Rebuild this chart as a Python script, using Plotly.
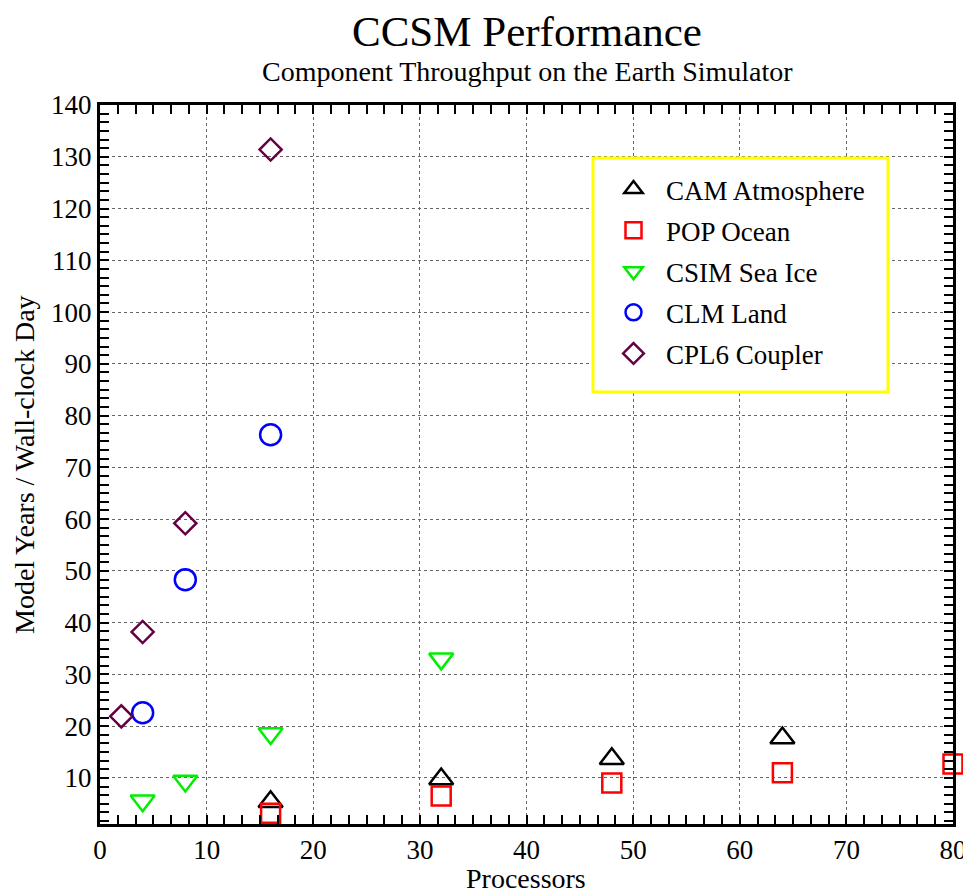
import plotly.graph_objects as go

# ---- data ----
cam_x = [16, 32, 48, 64]
cam_y = [5.4, 9.8, 13.7, 17.7]

pop_x = [16, 32, 48, 64, 80]
pop_y = [3.2, 6.5, 9.0, 11.0, 12.7]

csim_x = [4, 8, 16, 32]
csim_y = [5.6, 9.4, 18.6, 33.0]

clm_x = [4, 8, 16]
clm_y = [22.6, 48.3, 76.3]

cpl_x = [2, 4, 8, 16]
cpl_y = [21.9, 38.2, 59.2, 131.4]

x_ticks = [0, 10, 20, 30, 40, 50, 60, 70, 80]
y_ticks = [10, 20, 30, 40, 50, 60, 70, 80, 90, 100, 110, 120, 130, 140]

FONT = "Liberation Serif, Times New Roman, serif"

series = [
    ("CAM Atmosphere", cam_x, cam_y, "triangle-up-open", "#000000", 21),
    ("POP Ocean", pop_x, pop_y, "square-open", "#ff0000", 19),
    ("CSIM Sea Ice", csim_x, csim_y, "triangle-down-open", "#00ee00", 21),
    ("CLM Land", clm_x, clm_y, "circle-open", "#0000ff", 21),
    ("CPL6 Coupler", cpl_x, cpl_y, "diamond-open", "#660044", 17),
]

fig = go.Figure()
for i, (name, xs, ys, sym, col, sz) in enumerate(series):
    fig.add_trace(go.Scatter(
        x=xs, y=ys, mode="markers", name=name, legendgroup=f"g{i}",
        marker=dict(symbol=sym, size=sz, color=col, line=dict(color=col, width=2.5)),
        cliponaxis=False,
    ))

axis_common = dict(
    showline=True, linecolor="black", linewidth=3, mirror="allticks",
    ticks="inside", ticklen=0, tickwidth=2, tickcolor="black",
    showgrid=True, gridcolor="#666666", gridwidth=1, griddash="dot",
    zeroline=False, automargin=False,
    tickfont=dict(family=FONT, size=27, color="black"),
)

fig.update_xaxes(
    range=[0, 80], tickmode="array", tickvals=x_ticks,
    minor=dict(ticks="inside", ticklen=9, tickwidth=2, tickcolor="black",
               dtick=10/6, tick0=0, showgrid=False),
    **axis_common,
)
fig.update_yaxes(
    range=[1.1, 140], tickmode="array", tickvals=y_ticks,
    minor=dict(ticks="inside", ticklen=9, tickwidth=2, tickcolor="black",
               dtick=10/6, tick0=0, showgrid=False),
    **axis_common,
)

# the page body adds an 8px offset; size the figure so it fits the window
OFF = 8
W, H = 971 - OFF, 894 - OFF
L, T = 100 - OFF, 105 - OFF
R = W - (953 - OFF)
B = H - (824 - OFF)
PW, PH = W - L - R, H - T - B


def px_x(sx):
    return (sx - OFF - L) / PW


def px_y(sy):
    return (H - B - (sy - OFF)) / PH


fig.update_layout(
    width=W, height=H,
    margin=dict(l=L, r=R, t=T, b=B),
    paper_bgcolor="white", plot_bgcolor="white",
    font=dict(family=FONT, color="black"),
    showlegend=True,
    legend=dict(
        x=px_x(601), y=px_y(165), xanchor="left", yanchor="top",
        bgcolor="rgba(0,0,0,0)", borderwidth=0,
        font=dict(family=FONT, size=27, color="black"),
        itemwidth=55, tracegroupgap=3,
    ),
    shapes=[
        dict(type="rect", xref="paper", yref="paper",
             x0=px_x(593), x1=px_x(888), y0=px_y(392), y1=px_y(158),
             line=dict(color="#ffff00", width=3), fillcolor="white", layer="above"),
    ],
    annotations=[
        dict(text="CCSM Performance", xref="paper", yref="paper",
             x=px_x(527), y=px_y(31), showarrow=False,
             xanchor="center", yanchor="middle",
             font=dict(family=FONT, size=43, color="black")),
        dict(text="Component Throughput on the Earth Simulator", xref="paper", yref="paper",
             x=px_x(527), y=px_y(71), showarrow=False,
             xanchor="center", yanchor="middle",
             font=dict(family=FONT, size=28, color="black")),
        dict(text="Processors", xref="paper", yref="paper",
             x=px_x(526), y=px_y(878), showarrow=False,
             xanchor="center", yanchor="middle",
             font=dict(family=FONT, size=28, color="black")),
        dict(text="Model Years / Wall-clock Day", xref="paper", yref="paper",
             x=px_x(24), y=px_y(465), showarrow=False, textangle=-90,
             xanchor="center", yanchor="middle",
             font=dict(family=FONT, size=28, color="black")),
    ],
)

fig.write_html("out.html")
